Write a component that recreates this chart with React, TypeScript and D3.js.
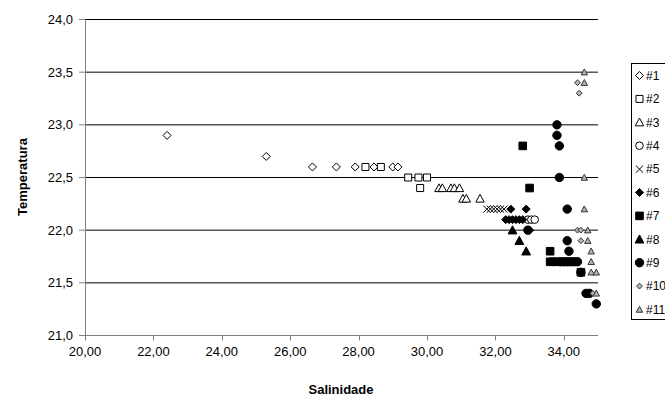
import React from "react";
import * as d3 from "d3";

const xTicks = [20, 22, 24, 26, 28, 30, 32, 34];
const yTicks = [21.0, 21.5, 22.0, 22.5, 23.0, 23.5, 24.0];
const seriesNames = ["#1", "#2", "#3", "#4", "#5", "#6", "#7", "#8", "#9", "#10", "#11"];

// [salinidade, temperatura]
const s1: [number, number][] = [
  [22.4, 22.9], [25.3, 22.7], [26.65, 22.6], [27.35, 22.6], [27.9, 22.6],
  [28.45, 22.6], [29.0, 22.6], [29.15, 22.6],
];
const s2: [number, number][] = [
  [28.2, 22.6], [28.65, 22.6], [29.45, 22.5], [29.75, 22.5], [30.0, 22.5], [29.8, 22.4],
];
const s3: [number, number][] = [
  [30.35, 22.4], [30.45, 22.4], [30.7, 22.4], [30.8, 22.4], [30.95, 22.4],
  [31.05, 22.3], [31.15, 22.3], [31.55, 22.3],
];
const s4: [number, number][] = [[32.95, 22.1], [33.05, 22.1], [33.15, 22.1]];
const s5: [number, number][] = [
  [31.75, 22.2], [31.85, 22.2], [31.95, 22.2], [32.05, 22.2], [32.15, 22.2], [32.25, 22.2],
];
const s6: [number, number][] = [
  [32.45, 22.2], [32.9, 22.2], [32.3, 22.1], [32.4, 22.1], [32.5, 22.1],
  [32.6, 22.1], [32.7, 22.1], [32.8, 22.1], [33.0, 22.0],
];
const s7: [number, number][] = [
  [32.8, 22.8], [33.0, 22.4], [33.6, 21.8], [33.6, 21.7], [33.7, 21.7], [33.8, 21.7], [34.5, 21.6],
];
const s8: [number, number][] = [[32.5, 22.0], [32.7, 21.9], [32.9, 21.8]];
const s9: [number, number][] = [
  [33.8, 23.0], [33.8, 22.9], [33.87, 22.8], [33.87, 22.5], [34.1, 22.2], [34.1, 21.9],
  [34.15, 21.8], [33.9, 21.7], [34.0, 21.7], [34.1, 21.7], [34.2, 21.7], [34.3, 21.7],
  [34.4, 21.7], [34.5, 21.6], [34.65, 21.4], [34.75, 21.4], [34.95, 21.3], [32.95, 22.0],
];
const s10: [number, number][] = [
  [34.4, 23.4], [34.45, 23.3], [34.4, 22.0], [34.5, 22.0], [34.5, 21.9], [34.85, 21.4],
];
const s11: [number, number][] = [
  [34.6, 23.5], [34.6, 23.4], [34.6, 22.5], [34.6, 22.2], [34.7, 22.0], [34.7, 21.9],
  [34.8, 21.8], [34.8, 21.7], [34.8, 21.6], [34.95, 21.6], [34.95, 21.4],
];
const allSeries = [s1, s2, s3, s4, s5, s6, s7, s8, s9, s10, s11];

const W = 665;
const H = 399;
const FONT = "'Liberation Sans', Arial, sans-serif";

type Kind = "diamond" | "square" | "triangle" | "circle" | "x";
const markerKinds: Kind[] = [
  "diamond", "square", "triangle", "circle", "x",
  "diamond", "square", "triangle", "circle", "diamond", "triangle",
];
const markerFill = ["#fff", "#fff", "#fff", "#fff", "none", "#000", "#000", "#000", "#000", "#b4b4b4", "#b4b4b4"];
const markerSize = [4, 3.5, 4.2, 3.8, 3.6, 4, 3.8, 4.4, 4.2, 2.9, 3.2];

function markerPath(kind: Kind, r: number): string {
  switch (kind) {
    case "diamond":
      return `M0,${-r}L${r},0L0,${r}L${-r},0Z`;
    case "square":
      return `M${-r},${-r}H${r}V${r}H${-r}Z`;
    case "triangle":
      return `M0,${-r}L${r},${r * 0.85}L${-r},${r * 0.85}Z`;
    case "x":
      return `M${-r},${-r}L${r},${r}M${r},${-r}L${-r},${r}`;
    default:
      return "";
  }
}

function Marker({ i, x, y }: { i: number; x: number; y: number }) {
  const kind = markerKinds[i];
  const r = markerSize[i];
  const stroke = i >= 9 ? "#333" : "#000";
  if (kind === "circle") {
    return <circle cx={x} cy={y} r={r} fill={markerFill[i]} stroke={stroke} strokeWidth={1} />;
  }
  return (
    <path
      d={markerPath(kind, r)}
      transform={`translate(${x},${y})`}
      fill={markerFill[i]}
      stroke={stroke}
      strokeWidth={1}
    />
  );
}

export default function App() {
  const x = d3.scaleLinear().domain([20, 35]).range([85, 598]);
  const y = d3.scaleLinear().domain([21, 24]).range([335.5, 19.5]);
  const fmtX = (v: number) => v.toFixed(2).replace(".", ",");
  const fmtY = (v: number) => v.toFixed(1).replace(".", ",");

  return (
    <svg
      width={W}
      height={H}
      style={{ position: "absolute", left: 0, top: 0, background: "#fff" }}
      fontFamily={FONT}
    >
      <rect x={0} y={0} width={W} height={H} fill="#fff" />
      {/* gridlines */}
      {yTicks.filter((t) => t > 21).map((t) => (
        <line key={`g${t}`} x1={x(20)} x2={x(35)} y1={y(t)} y2={y(t)} stroke="#000" strokeWidth={1} />
      ))}
      {/* axes */}
      <line x1={85.5} x2={85.5} y1={y(24)} y2={y(21)} stroke="#808080" strokeWidth={1} />
      <line x1={x(20)} x2={x(35)} y1={y(21)} y2={y(21)} stroke="#808080" strokeWidth={1} />
      {yTicks.map((t) => (
        <g key={`yt${t}`}>
          <line x1={79} x2={85.5} y1={y(t)} y2={y(t)} stroke="#808080" />
          <text x={73} y={y(t)} dy="0.35em" textAnchor="end" fontSize={13} fill="#000">
            {fmtY(t)}
          </text>
        </g>
      ))}
      {xTicks.map((t) => (
        <g key={`xt${t}`}>
          <line x1={Math.round(x(t)) + 0.5} x2={Math.round(x(t)) + 0.5} y1={y(21)} y2={y(21) + 5} stroke="#808080" />
          <text x={x(t)} y={356} textAnchor="middle" fontSize={13} fill="#000">
            {fmtX(t)}
          </text>
        </g>
      ))}
      <text x={341} y={394} textAnchor="middle" fontSize={13} fontWeight="bold" fill="#000">
        Salinidade
      </text>
      <text
        transform={`translate(27,177) rotate(-90)`}
        textAnchor="middle"
        fontSize={13}
        fontWeight="bold"
        fill="#000"
      >
        Temperatura
      </text>
      {/* points */}
      {allSeries.map((s, i) => (
        <g key={`s${i}`}>
          {s.map(([sv, tv], j) => (
            <Marker key={j} i={i} x={x(sv)} y={y(tv)} />
          ))}
        </g>
      ))}
      {/* legend */}
      <rect x={631.5} y={63.5} width={60} height={256} fill="#fff" stroke="#000" strokeWidth={1} />
      {seriesNames.map((n, i) => {
        const ly = 75.5 + i * 23.4;
        return (
          <g key={`l${i}`}>
            <Marker i={i} x={639.5} y={ly} />
            <text x={646} y={ly} dy="0.36em" fontSize={12} fill="#000">
              {n}
            </text>
          </g>
        );
      })}
    </svg>
  );
}
